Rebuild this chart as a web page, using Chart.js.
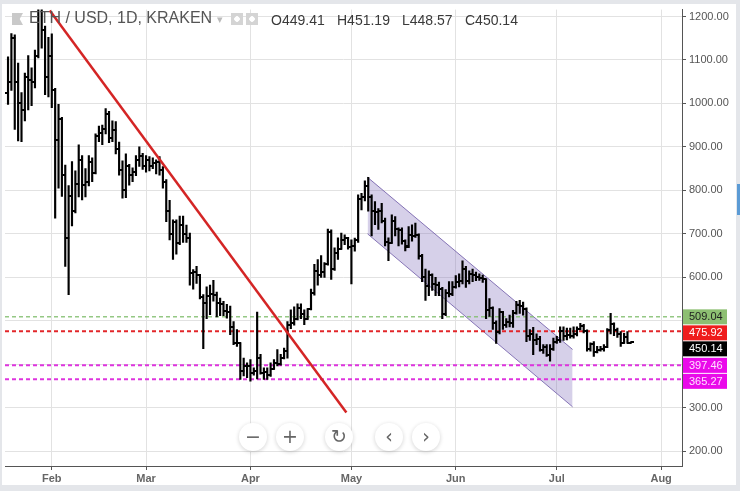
<!DOCTYPE html>
<html>
<head>
<meta charset="utf-8">
<script src="https://cdn.jsdelivr.net/npm/chart.js@4.4.0/dist/chart.umd.min.js"></script>
<style>
  html, body { margin: 0; padding: 0; }
  body { width: 740px; height: 491px; background: #e4e6ea; position: relative; overflow: hidden; font-family: "Liberation Sans", Arial, sans-serif; }
  #pane { position: absolute; left: 2px; top: 4px; width: 734px; height: 481px; background: #fff; }
  #chart { position: absolute; left: 0; top: 0; }
  .hdr { position: absolute; top: 9px; font-size: 16px; white-space: nowrap; }
  .flag { position: absolute; left: 12px; top: 13px; width: 11px; height: 12px; background: #c9c9c9;
          clip-path: polygon(0 0, 100% 0, 70% 50%, 100% 100%, 0 100%); }
  .ico { position: absolute; top: 13px; width: 12px; height: 12px; background: #d4d4d4;
         background-image: radial-gradient(circle, #fff 0 2.5px, transparent 3px); }
  .nav { position: absolute; top: 423px; width: 28px; height: 28px; border-radius: 50%; background: #fff;
         box-shadow: 0 1px 4px rgba(0,0,0,0.18); color: #666; font-size: 19px; line-height: 27px; text-align: center;
         font-family: "DejaVu Sans", sans-serif; }
  #blue { position: absolute; left: 737px; top: 184px; width: 3px; height: 31px; background: #5b9bd5; }
</style>
</head>
<body>
<div id="pane"></div>
<canvas id="chart" width="740" height="491"></canvas>

<div class="flag"></div>
<div class="hdr" style="left:29px; color:#555;">ETH / USD, 1D, KRAKEN <span style="color:#bbb; font-size:11px;">&#9662;</span></div>
<div class="ico" style="left:231px;"></div>
<div class="ico" style="left:246px;"></div>
<div class="hdr" style="left:271px; color:#3a3a3a; font-size:14px; top:12px;">O449.41</div>
<div class="hdr" style="left:337px; color:#3a3a3a; font-size:14px; top:12px;">H451.19</div>
<div class="hdr" style="left:402px; color:#3a3a3a; font-size:14px; top:12px;">L448.57</div>
<div class="hdr" style="left:465px; color:#3a3a3a; font-size:14px; top:12px;">C450.14</div>

<div class="nav" style="left:239px;">&minus;</div>
<div class="nav" style="left:276px;">+</div>
<div class="nav" style="left:325px;">&#8635;</div>
<div class="nav" style="left:375px;">&lsaquo;</div>
<div class="nav" style="left:412px;">&rsaquo;</div>
<div id="blue"></div>

<script>
// days counted from 1 Jan 2018, first bar is 19 Jan
var firstDay = 18;
var monthDays = [31, 59, 90, 120, 151, 181, 212];
var monthLabels = ['Feb', 'Mar', 'Apr', 'May', 'Jun', 'Jul', 'Aug'];
var priceTicks = [200, 300, 400, 500, 600, 700, 800, 900, 1000, 1100, 1200];

var opens = [
  1025, 1050, 1150, 1050, 1000, 986, 1060, 1055, 1050, 1110, 1230, 1170, 1060,
  1110, 1030, 915, 965, 835, 690, 786, 752, 815, 870, 812, 820, 865, 840, 925, 932, 942, 975, 920, 940, 895, 848, 800, 855, 835, 842, 870, 878,
  855, 870, 857, 862, 865, 848, 820, 752, 700, 728, 680, 720, 700, 690, 610, 612, 605, 555, 540, 556, 562, 560, 540, 538, 522, 520, 485, 448, 448, 385, 395,
  395, 380, 385, 414, 380, 382, 375, 390, 402, 400, 415, 430, 490, 495, 505, 530, 515, 505, 527, 565, 615, 605, 612, 630, 705, 618, 655, 665, 685, 690,
  670, 672, 685, 780, 785, 810, 785, 752, 750, 752, 730, 682, 680, 730, 712, 708, 683, 672, 698, 695, 698, 650, 600, 580, 605, 585, 582, 572, 515, 565, 562,
  577, 590, 592, 620, 592, 608, 605, 600, 598, 595, 525, 530, 494, 475, 520, 490, 498, 495, 518, 537, 535, 528, 465, 470, 455, 458, 432, 440, 422, 435,
  452, 455, 477, 465, 468, 465, 470, 482, 488, 476, 434, 446, 428, 432, 435, 440, 478, 492, 478, 470, 450, 462, 449.41
];
var highs = [
  1107, 1161, 1158, 1093, 1025, 1070, 1110, 1082, 1123, 1250, 1250, 1178, 1152,
  1160, 1035, 998, 968, 858, 811, 866, 845, 905, 880, 850, 880, 875, 930, 948, 950, 988, 982, 960, 958, 911, 868, 884, 860, 852, 880, 900, 885,
  880, 878, 875, 870, 878, 855, 825, 777, 732, 732, 741, 741, 720, 702, 618, 625, 607, 560, 578, 582, 593, 566, 552, 545, 538, 534, 498, 480, 450, 414, 403,
  411, 392, 520, 423, 392, 392, 403, 411, 434, 423, 437, 498, 525, 532, 539, 539, 525, 528, 573, 630, 641, 650, 634, 711, 709, 668, 691, 702, 698, 692,
  686, 690, 790, 793, 822, 830, 790, 774, 758, 770, 736, 691, 744, 740, 714, 714, 686, 717, 721, 725, 700, 653, 619, 615, 608, 600, 589, 577, 572, 590, 590,
  604, 608, 638, 625, 615, 619, 612, 608, 605, 596, 551, 532, 500, 528, 522, 505, 513, 524, 545, 547, 543, 530, 480, 485, 470, 464, 445, 445, 445, 460,
  464, 486, 486, 483, 483, 486, 486, 494, 492, 479, 449, 452, 441, 441, 445, 482, 517, 495, 483, 475, 471, 475, 451.19
];
var lows = [
  998, 1030, 940, 914, 912, 960, 985, 995, 1036, 1105, 1127, 1020, 1015,
  990, 736, 805, 786, 625, 560, 718, 748, 785, 778, 785, 810, 820, 838, 912, 905, 930, 910, 912, 884, 835, 782, 783, 812, 820, 834, 855, 848,
  842, 845, 850, 838, 835, 805, 728, 686, 641, 653, 675, 680, 680, 582, 573, 586, 550, 436, 505, 514, 545, 509, 512, 512, 506, 468, 445, 441, 365, 373, 369,
  361, 375, 366, 377, 365, 365, 372, 388, 396, 398, 412, 414, 482, 490, 502, 505, 491, 503, 525, 559, 582, 600, 600, 628, 595, 616, 641, 664, 675, 665,
  585, 660, 680, 755, 776, 752, 695, 721, 710, 725, 672, 638, 678, 695, 672, 676, 661, 668, 683, 692, 642, 590, 547, 558, 570, 558, 558, 505, 512, 555, 558,
  575, 578, 585, 577, 585, 590, 592, 593, 588, 505, 510, 480, 448, 470, 480, 485, 486, 485, 515, 517, 513, 452, 455, 422, 445, 430, 425, 418, 407, 432,
  448, 450, 455, 456, 460, 460, 465, 479, 472, 430, 430, 418, 426, 430, 430, 438, 470, 466, 462, 441, 448, 448, 448.57
];
var closes = [
  1050, 1150, 1050, 1000, 986, 1060, 1055, 1050, 1110, 1230, 1170, 1060, 1110,
  1030, 915, 965, 835, 690, 786, 752, 815, 870, 812, 820, 865, 840, 925, 932, 942, 975, 920, 940, 895, 848, 800, 855, 835, 842, 870, 878, 855,
  870, 857, 862, 865, 848, 820, 752, 700, 728, 680, 720, 700, 690, 610, 612, 605, 555, 540, 556, 562, 560, 540, 538, 522, 520, 485, 448, 448, 385, 395, 395,
  380, 385, 414, 380, 382, 375, 390, 402, 400, 415, 430, 490, 495, 505, 530, 515, 505, 527, 565, 615, 605, 612, 630, 705, 618, 655, 665, 685, 690, 670,
  672, 685, 780, 785, 810, 785, 752, 750, 752, 730, 682, 680, 730, 712, 708, 683, 670, 698, 695, 698, 650, 600, 580, 605, 585, 582, 572, 515, 565, 562, 577,
  590, 592, 620, 592, 608, 605, 600, 598, 595, 525, 530, 494, 475, 520, 490, 498, 495, 518, 537, 535, 528, 465, 470, 455, 458, 432, 440, 422, 435, 452,
  455, 477, 465, 468, 465, 470, 482, 488, 476, 434, 446, 428, 432, 435, 440, 478, 492, 478, 470, 450, 462, 450, 450.14
];

// drawn lines: trendline, falling channel, horizontal levels
var trendDays = [30.4, 118.5];
var trendPrices = [1214, 289];
var channelDays = [124.8, 185.7];
var channelTop = [830, 434];
var channelBottom = [700, 302];
var levelPrices = [509.04, 475.92, 397.46, 365.27];

var xMin = 17.1, xMax = 218.2;

var days = opens.map(function(o, i) { return firstDay + i; });

function points(xs, ys) {
  return xs.map(function(x, i) { return { x: x, y: ys[i] }; });
}

// little tick images, left one for the open, right one for the close
function makeTick(left) {
  var c = document.createElement('canvas');
  c.width = 7;
  c.height = 2;
  var g = c.getContext('2d');
  g.fillStyle = '#000';
  if (left) g.fillRect(0, 0, 4, 2);
  else g.fillRect(3, 0, 4, 2);
  return c;
}

var levelStyle = [
  { line: 'rgba(130,190,110,0.85)', width: 1.5, bg: '#8dbf72', fg: '#1e1e1e' },
  { line: '#e2262a', width: 2, bg: '#ef1c1c', fg: '#fff' },
  { line: '#de34de', width: 2, bg: '#ea0aea', fg: '#ffe0ff' },
  { line: '#de34de', width: 2, bg: '#ea0aea', fg: '#ffe0ff' }
];

var levelDatasets = levelPrices.map(function(p, i) {
  return {
    type: 'line',
    data: points([xMin, xMax], [p, p]),
    borderColor: levelStyle[i].line,
    borderWidth: levelStyle[i].width,
    borderDash: [4, 3],
    pointRadius: 0,
    fill: false,
    order: 3
  };
});

var levelLabels = {
  id: 'levelLabels',
  afterDraw: function(chart) {
    var y = chart.scales.y;
    var area = chart.chartArea;
    var c = chart.ctx;
    var items = levelPrices.map(function(p, i) {
      return { v: p, bg: levelStyle[i].bg, fg: levelStyle[i].fg };
    });
    items.push({ v: closes[closes.length - 1], bg: '#000', fg: '#fff' });
    items.sort(function(a, b) { return b.v - a.v; });

    var h = 15, last = -1000;
    c.save();
    c.font = '11px "Liberation Sans", Arial, sans-serif';
    c.textBaseline = 'middle';
    items.forEach(function(it) {
      var top = y.getPixelForValue(it.v) - h / 2;
      if (top < last) top = last;
      last = top + h + 1;
      c.fillStyle = it.bg;
      c.fillRect(area.right + 1, top, 44, h);
      c.fillStyle = it.fg;
      c.fillText(it.v.toFixed(2), area.right + 7, top + h / 2 + 0.5);
    });
    c.restore();
  }
};

new Chart(document.getElementById('chart'), {
  type: 'bar',
  data: {
    datasets: [
      {
        type: 'line',
        data: points(trendDays, trendPrices),
        borderColor: '#d42525',
        borderWidth: 2.5,
        pointRadius: 0,
        fill: false,
        order: 0
      },
      {
        type: 'line',
        data: points(days, opens),
        showLine: false,
        pointStyle: makeTick(true),
        pointRadius: 3,
        order: 1
      },
      {
        type: 'line',
        data: points(days, closes),
        showLine: false,
        pointStyle: makeTick(false),
        pointRadius: 3,
        order: 1
      },
      {
        type: 'bar',
        data: days.map(function(d, i) { return { x: d, y: [lows[i], highs[i]] }; }),
        backgroundColor: '#000',
        barThickness: 1.5,
        grouped: false,
        order: 2
      }
    ].concat(levelDatasets).concat([
      {
        type: 'line',
        data: points(channelDays, channelTop),
        borderColor: 'rgba(115,95,170,0.85)',
        borderWidth: 1,
        pointRadius: 0,
        fill: false,
        order: 4
      },
      {
        type: 'line',
        data: points(channelDays, channelBottom),
        borderColor: 'rgba(115,95,170,0.85)',
        borderWidth: 1,
        backgroundColor: 'rgba(126,108,188,0.32)',
        pointRadius: 0,
        fill: '-1',
        order: 5
      }
    ])
  },
  options: {
    responsive: false,
    animation: false,
    events: [],
    layout: { padding: { left: 2, top: 4, right: 0, bottom: 0 } },
    plugins: { legend: { display: false }, tooltip: { enabled: false } },
    scales: {
      x: {
        type: 'linear',
        position: 'bottom',
        min: xMin,
        max: xMax,
        offset: false,
        afterBuildTicks: function(axis) {
          axis.ticks = monthDays.map(function(v) { return { value: v }; });
        },
        afterFit: function(axis) { axis.height = 25; },
        ticks: {
          autoSkip: false,
          maxRotation: 0,
          padding: 2,
          color: '#666',
          font: { family: '"Liberation Sans", Arial, sans-serif', size: 11, weight: 'bold' },
          callback: function(v) { return monthLabels[monthDays.indexOf(v)]; }
        },
        grid: { offset: false, color: '#e2e2e2', tickColor: '#555', tickLength: 4 },
        border: { color: '#555' }
      },
      y: {
        position: 'right',
        min: 165.9,
        max: 1215.9,
        afterBuildTicks: function(axis) {
          axis.ticks = priceTicks.map(function(v) { return { value: v }; });
        },
        afterFit: function(axis) { axis.width = 58; },
        ticks: {
          padding: 3,
          color: '#555',
          font: { family: '"Liberation Sans", Arial, sans-serif', size: 11 },
          callback: function(v) { return v.toFixed(2); }
        },
        grid: { color: '#e2e2e2', tickColor: '#555', tickLength: 4 },
        border: { color: '#555' }
      }
    }
  },
  plugins: [levelLabels]
});
</script>
</body>
</html>
